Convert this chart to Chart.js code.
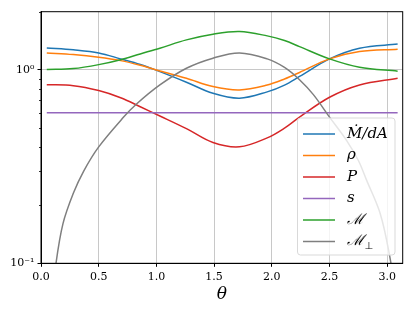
<!DOCTYPE html>
<html><head><meta charset="utf-8">
<script src="https://cdn.jsdelivr.net/npm/chart.js@4/dist/chart.umd.min.js"></script>
<style>html,body{margin:0;padding:0;background:#fff}#wrap{width:415px;height:311px;position:relative}</style>
</head><body><div id="wrap"><canvas id="c" width="415" height="311"></canvas></div>
<script>
const theta = [0.05,0.28,0.50,0.69,0.86,1.03,1.26,1.49,1.72,1.96,2.11,2.24,2.50,2.76,3.09];
const mdotDA = [1.30,1.27,1.224,1.14,1.066,0.98,0.864,0.757,0.714,0.77,0.835,0.925,1.14,1.295,1.36];
const rho = [1.224,1.20,1.163,1.117,1.057,0.988,0.906,0.82,0.788,0.835,0.897,0.97,1.14,1.244,1.28];
const pressure = [0.839,0.829,0.782,0.718,0.645,0.578,0.497,0.421,0.40,0.445,0.50,0.57,0.722,0.836,0.906];
const entropy = [0.6,0.6,0.6,0.6,0.6,0.6,0.6,0.6,0.6,0.6,0.6,0.6,0.6,0.6,0.6];
const mach = [1.004,1.016,1.065,1.13,1.21,1.295,1.43,1.53,1.578,1.50,1.42,1.32,1.14,1.032,0.985];
const thetaPerp = [0.05,0.13,0.19,0.28,0.37,0.50,0.71,0.83,1.03,1.26,1.49,1.72,1.96,2.11,2.24,2.36,2.50,2.65,2.75,2.82,2.94,3.02,3.09];
const machPerp = [0.04,0.10,0.16,0.23,0.30,0.40,0.565,0.668,0.836,1.02,1.15,1.224,1.14,1.03,0.89,0.745,0.57,0.43,0.34,0.27,0.18,0.11,0.06];
const seriesLabels = ['Ṁ/dA','ρ','P','s','ℳ','ℳ⊥'];
const seriesColors = ['#1f77b4','#ff7f0e','#d62728','#9467bd','#2ca02c','#7f7f7f'];
const xTicks = [0,0.5,1.0,1.5,2.0,2.5,3.0];
const yMajor = [0.1,1];
const yMinor = [0.2,0.3,0.4,0.5,0.6,0.7,0.8,0.9,2];

const pts = (xs, ys) => xs.map((x,i)=>({x:x,y:ys[i]}));
const allSeries = [pts(theta,mdotDA),pts(theta,rho),pts(theta,pressure),pts(theta,entropy),pts(theta,mach),pts(thetaPerp,machPerp)];

const TICKFONT = {family:'DejaVu Serif', size:11};
const GRID = '#c8c8c8';

const extras = {
  id:'extras',
  afterDraw(chart){
    const ctx = chart.ctx, a = chart.chartArea;
    const ys = chart.scales.y;
    ctx.save();
    ctx.strokeStyle='#000'; ctx.lineWidth=0.8;
    yMinor.forEach(v=>{
      const y = Math.round(ys.getPixelForValue(v))+0.5;
      ctx.beginPath(); ctx.moveTo(a.left-2,y); ctx.lineTo(a.left,y); ctx.stroke();
    });
    ctx.lineWidth=1; ctx.strokeStyle='#000';
    ctx.strokeRect(a.left,a.top,a.right-a.left,a.bottom-a.top);
    const bx=297.5, by=118, bw=97.5, bh=137, r=3;
    ctx.beginPath();
    ctx.moveTo(bx+r,by); ctx.lineTo(bx+bw-r,by); ctx.quadraticCurveTo(bx+bw,by,bx+bw,by+r);
    ctx.lineTo(bx+bw,by+bh-r); ctx.quadraticCurveTo(bx+bw,by+bh,bx+bw-r,by+bh);
    ctx.lineTo(bx+r,by+bh); ctx.quadraticCurveTo(bx,by+bh,bx,by+bh-r);
    ctx.lineTo(bx,by+r); ctx.quadraticCurveTo(bx,by,bx+r,by); ctx.closePath();
    ctx.fillStyle='rgba(255,255,255,0.8)'; ctx.fill();
    ctx.strokeStyle='#d9d9d9'; ctx.lineWidth=1; ctx.stroke();
    const rowY=[134,155.5,177,198.5,220,241.5];
    seriesLabels.forEach((lab,i)=>{
      const y=rowY[i];
      ctx.strokeStyle=seriesColors[i]; ctx.lineWidth=1.5;
      ctx.beginPath(); ctx.moveTo(303,y); ctx.lineTo(335,y); ctx.stroke();
      ctx.fillStyle='#000'; ctx.textBaseline='middle'; ctx.textAlign='left';
      ctx.font='italic 15px "DejaVu Serif"';
      if(lab.endsWith('⊥')){
        const main=lab.slice(0,-1);
        ctx.fillText(main,347,y);
        const w=ctx.measureText(main).width;
        ctx.font='10px "DejaVu Sans"';
        ctx.fillText('⊥',347+w+0.5,y+5);
      } else {
        ctx.fillText(lab,347,y);
      }
    });
    ctx.restore();
  }
};

new Chart(document.getElementById('c'),{
  type:'line',
  data:{datasets: allSeries.map((d,i)=>({
    label:seriesLabels[i], data:d, borderColor:seriesColors[i], backgroundColor:seriesColors[i],
    borderWidth:1.5, pointRadius:0, fill:false, tension:0.35, order:6-i
  }))},
  options:{
    responsive:false, animation:false, devicePixelRatio:1,
    layout:{padding:{left:0,top:11.7,right:12.3,bottom:0}},
    plugins:{legend:{display:false}, tooltip:{enabled:false}},
    scales:{
      x:{type:'linear', min:0, max:3.134,
        afterBuildTicks:s=>{s.ticks=xTicks.map(v=>({value:v}));},
        afterFit:s=>{s.height=47.7;},
        ticks:{callback:v=>Number(v).toFixed(1), font:TICKFONT, color:'#000', maxRotation:0, autoSkip:false, padding:4},
        grid:{color:GRID, lineWidth:1, tickLength:3.5, tickColor:'#000', drawTicks:true},
        border:{display:true,color:'#000',width:1},
        title:{display:true,text:'θ',font:{family:'DejaVu Serif',style:'italic',size:17},color:'#000',padding:{top:2,bottom:6}}
      },
      y:{type:'logarithmic', min:0.1, max:2.0,
        afterBuildTicks:s=>{s.ticks=yMajor.map(v=>({value:v,major:true}));},
        afterFit:s=>{s.width=41;},
        ticks:{callback:v=>(v===1?'10⁰':(Math.abs(v-0.1)<1e-9?'10⁻¹':'')), font:TICKFONT, color:'#000', autoSkip:false, padding:3},
        grid:{color:c=>(c.tick&&c.tick.value===1?GRID:'rgba(0,0,0,0)'), lineWidth:1, tickLength:3.5, tickColor:'#000', drawTicks:true},
        border:{display:true,color:'#000',width:1}
      }
    }
  },
  plugins:[extras]
});
</script></body></html>
